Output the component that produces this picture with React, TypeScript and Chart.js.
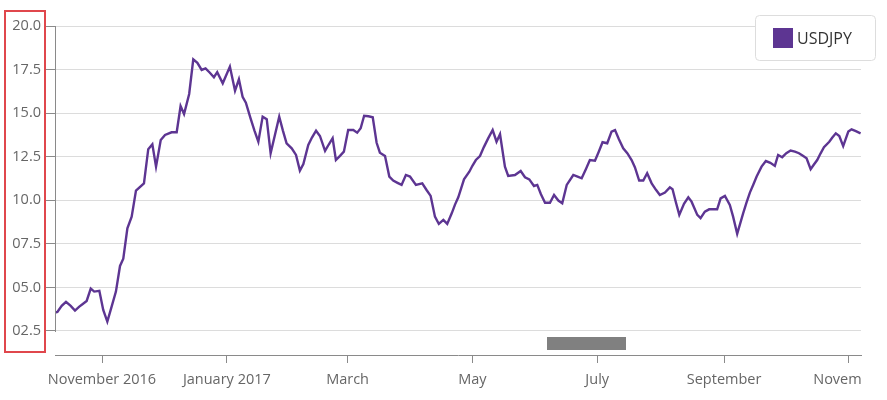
import React, { useEffect, useRef } from "react";
import { Chart, registerables } from "chart.js";

Chart.register(...registerables);

const SERIES_LABEL = "USDJPY";
const LINE_COLOR = "#5d3592";
const FONT = '"Open Sans", "Noto Sans", sans-serif';

// day offsets counted from 2016-10-01
const dayOffsets = [
  8.0, 9.2, 11.3, 13.4, 15.7, 17.8, 19.9, 21.6, 23.5, 25.5, 27.2, 29.7, 31.6, 33.6, 35.7, 37.8, 39.8, 41.4, 43.4, 45.5,
  47.6, 51.5, 53.6, 55.6, 57.4, 59.7, 61.8, 65.0, 67.5, 69.4, 71.1, 73.6, 75.6, 77.6, 79.7, 81.6, 83.7, 85.7, 87.3, 90.0,
  93.5, 96.0, 97.9, 99.7, 101.3, 103.6, 105.5, 107.4, 109.5, 111.5, 113.4, 115.5, 117.6, 119.4, 121.2, 123.7, 125.8, 127.7, 129.4, 131.8,
  133.6, 135.6, 137.5, 140.0, 141.8, 143.7, 145.3, 147.3, 149.2, 151.3, 153.8, 155.7, 157.4, 159.1, 161.2, 163.3, 165.2, 166.8, 169.3, 171.4,
  173.3, 175.4, 177.4, 179.5, 181.5, 184.4, 187.5, 189.6, 191.6, 193.7, 195.6, 197.8, 199.7, 201.9, 203.5, 205.1, 207.9, 210.5, 212.0, 213.7,
  215.7, 217.6, 219.7, 221.9, 223.8, 225.5, 227.9, 229.5, 232.8, 235.6, 237.7, 239.8, 242.1, 243.7, 245.5, 247.5, 249.9, 251.9, 254.0, 255.9,
  258.1, 261.3, 263.4, 265.4, 267.5, 269.4, 271.9, 273.8, 275.6, 277.9, 280.0, 281.7, 283.6, 285.7, 287.7, 289.8, 291.4, 293.5, 295.5, 297.4,
  299.6, 301.7, 303.6, 306.1, 308.5, 309.8, 311.4, 313.1, 315.4, 317.5, 319.1, 321.9, 323.5, 325.6, 327.7, 329.5, 331.6, 333.3, 335.4, 337.8,
  339.4, 341.4, 344.3, 345.9, 347.6, 349.3, 350.9, 353.3, 355.4, 357.6, 359.8, 361.4, 363.4, 365.4, 367.5, 369.6, 371.6, 373.5, 375.3, 377.3,
  378.9, 380.5, 382.1, 383.8, 386.4, 387.9, 389.6, 391.3, 393.2, 395.7, 397.3, 399.4, 401.7,
];

const rates = [
  103.55, 103.59, 103.94, 104.17, 103.94, 103.67, 103.9, 104.05, 104.22, 104.93, 104.76, 104.8, 103.71, 103.04, 103.9, 104.76, 106.23, 106.65, 108.39, 109.06,
  110.55, 110.97, 112.93, 113.21, 111.93, 113.46, 113.75, 113.9, 113.9, 115.41, 114.95, 116.1, 118.09, 117.89, 117.48, 117.57, 117.32, 117.06, 117.35, 116.71,
  117.67, 116.29, 116.94, 115.94, 115.6, 114.7, 114.0, 113.36, 114.8, 114.65, 112.7, 113.75, 114.8, 114.0, 113.27, 112.98, 112.6, 111.7, 112.08, 113.17,
  113.6, 113.99, 113.69, 112.83, 113.2, 113.56, 112.31, 112.55, 112.79, 114.03, 114.03, 113.88, 114.13, 114.85, 114.82, 114.76, 113.3, 112.73, 112.54, 111.36,
  111.13, 111.0, 110.88, 111.45, 111.36, 110.88, 110.97, 110.59, 110.25, 109.06, 108.64, 108.87, 108.64, 109.25, 109.75, 110.17, 111.2, 111.64, 111.98, 112.31,
  112.54, 113.05, 113.55, 114.03, 113.36, 113.79, 111.93, 111.4, 111.45, 111.68, 111.32, 111.2, 110.82, 110.88, 110.35, 109.86, 109.86, 110.3, 109.98, 109.83,
  110.88, 111.45, 111.35, 111.26, 111.8, 112.31, 112.27, 112.8, 113.33, 113.27, 113.94, 114.03, 113.5, 112.98, 112.7, 112.31, 111.9, 111.13, 111.13, 111.55,
  110.97, 110.6, 110.3, 110.44, 110.74, 110.63, 109.9, 109.16, 109.8, 110.17, 109.92, 109.16, 108.97, 109.35, 109.48, 109.48, 109.48, 110.11, 110.25, 109.73,
  109.06, 108.07, 109.25, 109.85, 110.44, 110.9, 111.36, 111.93, 112.25, 112.15, 111.97, 112.6, 112.47, 112.7, 112.85, 112.79, 112.7, 112.55, 112.41, 111.78,
  112.05, 112.31, 112.68, 113.04, 113.36, 113.6, 113.84, 113.69, 113.11, 113.94, 114.07, 113.97, 113.84,
];

const monthTickDays = [31, 92, 151, 212, 273, 335, 396];
const monthTickLabels = ["November 2016", "January 2017", "March", "May", "July", "September", "November"];

const yTickValues = [102.5, 105, 107.5, 110, 112.5, 115, 117.5, 120];
const yTickLabels = ["02.5", "05.0", "07.5", "10.0", "12.5", "15.0", "17.5", "20.0"];

const X_MIN = 8.03;
const X_MAX = 401.9;
const Y_MIN = 101.12;
const Y_MAX = 120;

const decorPlugin = {
  id: "decor",
  beforeDraw(chart: any) {
    const { ctx, chartArea: ca, width, height } = chart;
    ctx.save();
    ctx.beginPath();
    ctx.rect(0, 0, width, ca.bottom + 2);
    ctx.rect(0, ca.bottom + 2, ca.right + 1, height);
    ctx.clip();
  },
  beforeDatasetsDraw(chart: any) {
    chart.ctx.restore();
  },
  afterDraw(chart: any) {
    const { ctx, chartArea: ca, scales } = chart;
    const y = scales.y;
    ctx.save();
    // y axis line
    ctx.strokeStyle = "#8a8a8a";
    ctx.lineWidth = 1;
    ctx.beginPath();
    ctx.moveTo(Math.round(ca.left) + 0.5, Math.round(y.getPixelForValue(Y_MAX)));
    ctx.lineTo(Math.round(ca.left) + 0.5, Math.round(y.getPixelForValue(yTickValues[0])) + 1);
    ctx.stroke();

    // red highlight rectangle around y labels
    ctx.strokeStyle = "#e0474c";
    ctx.lineWidth = 2;
    ctx.strokeRect(5, 11, 40, 341);

    // scroll thumb
    ctx.fillStyle = "#808080";
    ctx.fillRect(547, 337, 79, 13);

    // legend
    const bx = 755.5, by = 15.5, bw = 120, bh = 45, r = 4;
    ctx.beginPath();
    ctx.moveTo(bx + r, by);
    ctx.lineTo(bx + bw - r, by);
    ctx.arcTo(bx + bw, by, bx + bw, by + r, r);
    ctx.lineTo(bx + bw, by + bh - r);
    ctx.arcTo(bx + bw, by + bh, bx + bw - r, by + bh, r);
    ctx.lineTo(bx + r, by + bh);
    ctx.arcTo(bx, by + bh, bx, by + bh - r, r);
    ctx.lineTo(bx, by + r);
    ctx.arcTo(bx, by, bx + r, by, r);
    ctx.closePath();
    ctx.fillStyle = "#ffffff";
    ctx.fill();
    ctx.strokeStyle = "#dddddd";
    ctx.lineWidth = 1;
    ctx.stroke();
    const ds = chart.data.datasets[0];
    ctx.fillStyle = ds.borderColor;
    ctx.fillRect(773, 28, 20, 20);
    ctx.fillStyle = "#333333";
    ctx.font = `16px ${FONT}`;
    ctx.textBaseline = "middle";
    ctx.textAlign = "left";
    ctx.fillText(ds.label, 797, 39);
    ctx.restore();
  },
};

export default function App() {
  const ref = useRef<HTMLCanvasElement | null>(null);

  useEffect(() => {
    if (!ref.current) return;
    const points = dayOffsets.map((d, i) => ({ x: d, y: rates[i] }));
    const chart = new Chart(ref.current, {
      type: "line",
      data: {
        datasets: [
          {
            label: SERIES_LABEL,
            data: points,
            borderColor: LINE_COLOR,
            backgroundColor: LINE_COLOR,
            borderWidth: 2.4,
            pointRadius: 0,
            tension: 0,
            fill: false,
          },
        ],
      },
      options: {
        responsive: false,
        animation: false,
        layout: { padding: { top: 26, right: 26, left: 0, bottom: 0 } },
        plugins: { legend: { display: false }, tooltip: { enabled: false } },
        scales: {
          x: {
            type: "linear",
            min: X_MIN,
            max: X_MAX,
            afterBuildTicks: (s: any) => {
              s.ticks = monthTickDays.map((v) => ({ value: v }));
            },
            afterFit: (s: any) => {
              s.height = 45;
              s.paddingLeft = 0;
              s.paddingRight = 0;
            },
            grid: { drawOnChartArea: false, drawTicks: true, tickLength: 8, tickColor: "#8a8a8a" },
            border: { display: true, color: "#8a8a8a", width: 1 },
            ticks: {
              autoSkip: false,
              maxRotation: 0,
              padding: 8,
              color: "#666666",
              font: { family: FONT, size: 14.5 },
              callback: (v: any) => {
                const i = monthTickDays.indexOf(Number(v));
                return i >= 0 ? monthTickLabels[i] : "";
              },
            },
          },
          y: {
            type: "linear",
            min: Y_MIN,
            max: Y_MAX,
            afterBuildTicks: (s: any) => {
              s.ticks = yTickValues.map((v) => ({ value: v }));
            },
            afterFit: (s: any) => {
              s.width = 55;
              s.paddingTop = 0;
              s.paddingBottom = 0;
            },
            grid: { color: "#dcdcdc", tickColor: "#8a8a8a", tickLength: 9, lineWidth: 1 },
            border: { display: false },
            ticks: {
              padding: 5,
              color: "#666666",
              font: { family: FONT, size: 14.5 },
              callback: (v: any) => {
                const i = yTickValues.indexOf(Number(v));
                return i >= 0 ? yTickLabels[i] : "";
              },
            },
          },
        },
      },
      plugins: [decorPlugin],
    });
    return () => chart.destroy();
  }, []);

  return (
    <div style={{ position: "fixed", left: 0, top: 0, width: 887, height: 400, background: "#fff" }}>
      <canvas ref={ref} width={887} height={400} style={{ display: "block" }} />
    </div>
  );
}
